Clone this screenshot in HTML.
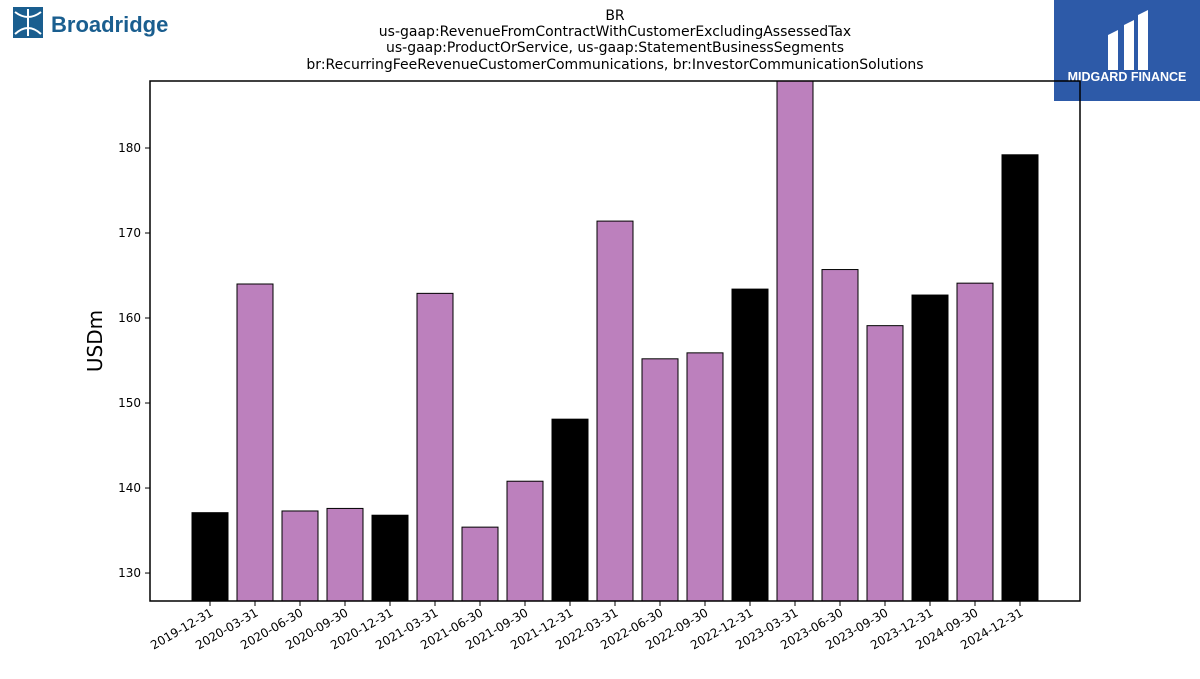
<!DOCTYPE html>
<html><head><meta charset="utf-8"><style>
body{margin:0;background:#fff;font-family:"DejaVu Sans","Liberation Sans",sans-serif}
</style></head><body>
<svg width="1200" height="675" viewBox="0 0 1200 675" xmlns="http://www.w3.org/2000/svg" font-family="DejaVu Sans, Liberation Sans, sans-serif">
<g>
<rect x="13" y="7" width="30" height="31" fill="#1a5e8f"/>
<path d="M15 12 Q28 22 41 12 M15 34 Q28 22 41 34 M28 9 L28 36" stroke="#fff" stroke-width="2" fill="none"/>
<text x="51" y="32" font-size="22" font-weight="bold" fill="#1a5e8f" font-family="Liberation Sans, sans-serif">Broadridge</text>
</g>
<g>
<rect x="1054" y="0" width="146" height="101" fill="#2d5aa8"/>
<path d="M1108 70 L1108 35 L1118 30 L1118 70 Z M1124 70 L1124 25 L1134 20 L1134 70 Z M1138 70 L1138 15 L1148 10 L1148 70 Z" fill="#fff"/>
<text x="1127" y="81" font-size="12.5" font-weight="bold" fill="#fff" text-anchor="middle" font-family="Liberation Sans, sans-serif">MIDGARD FINANCE</text>
</g>
<g font-size="14" text-anchor="middle" fill="#000">
<text x="615" y="20">BR</text>
<text x="615" y="36">us-gaap:RevenueFromContractWithCustomerExcludingAssessedTax</text>
<text x="615" y="52">us-gaap:ProductOrService, us-gaap:StatementBusinessSegments</text>
<text x="615" y="69">br:RecurringFeeRevenueCustomerCommunications, br:InvestorCommunicationSolutions</text>
</g>
<defs><clipPath id="pc"><rect x="150" y="81" width="930" height="520"/></clipPath></defs>
<g id="bars" clip-path="url(#pc)"></g>
<rect x="150" y="81" width="930" height="520" fill="none" stroke="#000" stroke-width="1.5"/>
<g id="yaxis"></g><g id="xaxis"></g>
<text x="0" y="0" transform="translate(102,341) rotate(-90)" font-size="20" text-anchor="middle">USDm</text>
</svg>
<script>
const categories=["2019-12-31","2020-03-31","2020-06-30","2020-09-30","2020-12-31","2021-03-31","2021-06-30","2021-09-30","2021-12-31","2022-03-31","2022-06-30","2022-09-30","2022-12-31","2023-03-31","2023-06-30","2023-09-30","2023-12-31","2024-09-30","2024-12-31"];
const values=[137.1,164.0,137.3,137.6,136.8,162.9,135.4,140.8,148.1,171.4,155.2,155.9,163.4,190.0,165.7,159.1,162.7,164.1,179.2];
const yTicks=[130,140,150,160,170,180];
const NS="http://www.w3.org/2000/svg";
const yMin=126.71,yMax=187.88,pTop=81,pBot=601;
const y=v=>pBot-(v-yMin)/(yMax-yMin)*(pBot-pTop);
const x=i=>210+i*45;
const bars=document.getElementById('bars'),ya=document.getElementById('yaxis'),xa=document.getElementById('xaxis');
function mk(t,a,p){const e=document.createElementNS(NS,t);for(const k in a)e.setAttribute(k,a[k]);p.appendChild(e);return e;}
values.forEach((v,i)=>{
 const q4=categories[i].endsWith("12-31");
 const r=mk('rect',{x:x(i)-18,y:y(v),width:36,height:pBot-y(v),fill:q4?'#000':'#bc80bd',stroke:'#000','stroke-width':1},bars);
 
 
 mk('line',{x1:x(i),x2:x(i),y1:pBot,y2:pBot+5,stroke:'#000'},xa);
 const l=mk('text',{x:0,y:0,'font-size':12,'text-anchor':'end',transform:`translate(${x(i)+4},${pBot+14}) rotate(-30)`},xa);
 l.textContent=categories[i];
 
 
});
yTicks.forEach(v=>{
 mk('line',{x1:145,x2:150,y1:y(v),y2:y(v),stroke:'#000'},ya);
 const l=mk('text',{x:141,y:y(v)+4,'font-size':12,'text-anchor':'end'},ya);
 l.textContent=v;
 
 
});
</script>
</body></html>
